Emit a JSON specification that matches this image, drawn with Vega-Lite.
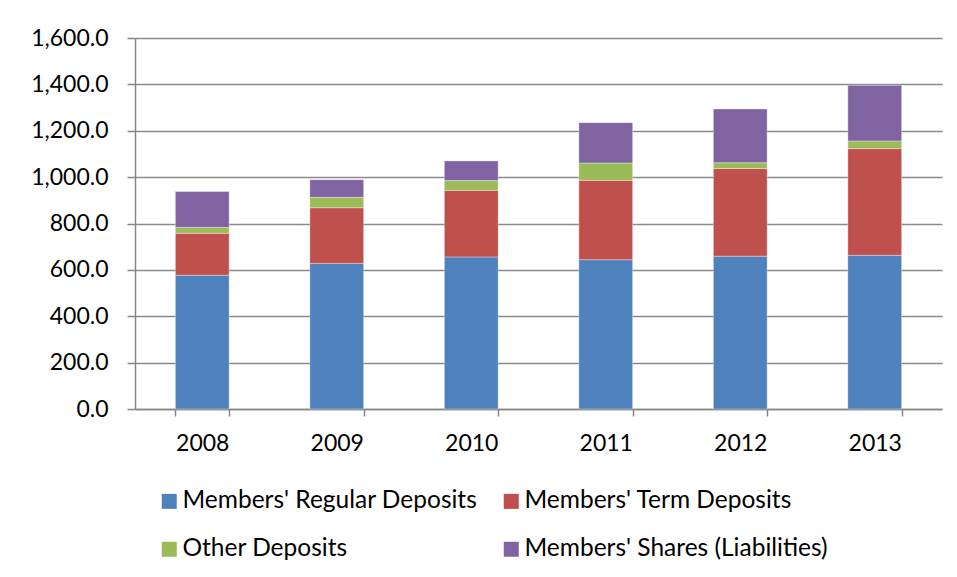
{
  "$schema": "https://vega.github.io/schema/vega-lite/v6.json",
  "width": 807,
  "height": 371,
  "autosize": {"type": "none"},
  "padding": {"left": 135, "top": 38, "right": 15, "bottom": 168},
  "background": "white",
  "config": {
    "font": "Lato",
    "view": {"stroke": null},
    "axis": {"labelFont": "Lato", "labelFontSize": 23, "labelColor": "black", "domainColor": "#868686", "tickColor": "#868686", "gridColor": "#8a8a8a", "domainWidth": 1.5, "tickWidth": 1.5, "gridWidth": 1.5}
  },
  "data": {
    "values": [
      {"year": "2008", "series": "Members' Regular Deposits", "idx": 1, "value": 577},
      {"year": "2008", "series": "Members' Term Deposits", "idx": 2, "value": 181},
      {"year": "2008", "series": "Other Deposits", "idx": 3, "value": 25},
      {"year": "2008", "series": "Members' Shares (Liabilities)", "idx": 4, "value": 155},
      {"year": "2009", "series": "Members' Regular Deposits", "idx": 1, "value": 628},
      {"year": "2009", "series": "Members' Term Deposits", "idx": 2, "value": 240},
      {"year": "2009", "series": "Other Deposits", "idx": 3, "value": 45},
      {"year": "2009", "series": "Members' Shares (Liabilities)", "idx": 4, "value": 76},
      {"year": "2010", "series": "Members' Regular Deposits", "idx": 1, "value": 656},
      {"year": "2010", "series": "Members' Term Deposits", "idx": 2, "value": 287},
      {"year": "2010", "series": "Other Deposits", "idx": 3, "value": 42},
      {"year": "2010", "series": "Members' Shares (Liabilities)", "idx": 4, "value": 85},
      {"year": "2011", "series": "Members' Regular Deposits", "idx": 1, "value": 644},
      {"year": "2011", "series": "Members' Term Deposits", "idx": 2, "value": 342},
      {"year": "2011", "series": "Other Deposits", "idx": 3, "value": 75},
      {"year": "2011", "series": "Members' Shares (Liabilities)", "idx": 4, "value": 174},
      {"year": "2012", "series": "Members' Regular Deposits", "idx": 1, "value": 659},
      {"year": "2012", "series": "Members' Term Deposits", "idx": 2, "value": 378},
      {"year": "2012", "series": "Other Deposits", "idx": 3, "value": 25},
      {"year": "2012", "series": "Members' Shares (Liabilities)", "idx": 4, "value": 232},
      {"year": "2013", "series": "Members' Regular Deposits", "idx": 1, "value": 663},
      {"year": "2013", "series": "Members' Term Deposits", "idx": 2, "value": 460},
      {"year": "2013", "series": "Other Deposits", "idx": 3, "value": 33},
      {"year": "2013", "series": "Members' Shares (Liabilities)", "idx": 4, "value": 240}
    ]
  },
  "mark": {"type": "bar", "stroke": "white", "strokeOpacity": 0.35, "strokeWidth": 1},
  "encoding": {
    "x": {
      "field": "year", "type": "nominal",
      "scale": {"paddingInner": 0.6, "paddingOuter": 0.3},
      "axis": {"title": null, "labelAngle": 0, "tickBand": "extent", "tickSize": 7, "labelPadding": 16, "grid": false}
    },
    "y": {
      "field": "value", "type": "quantitative", "stack": "zero",
      "scale": {"domain": [0, 1600], "nice": false},
      "axis": {"title": null, "values": [0, 200, 400, 600, 800, 1000, 1200, 1400, 1600], "format": ",.1f", "tickSize": 8, "labelPadding": 19, "grid": true}
    },
    "color": {
      "field": "series", "type": "nominal",
      "scale": {
        "domain": ["Members' Regular Deposits", "Members' Term Deposits", "Other Deposits", "Members' Shares (Liabilities)"],
        "range": ["#4F81BD", "#C0504D", "#9BBB59", "#8064A2"]
      },
      "legend": {
        "title": null, "orient": "none", "legendX": 22, "legendY": 451, "columns": 2, "direction": "horizontal",
        "symbolType": "square", "symbolSize": 225, "symbolStrokeWidth": 0, "symbolOpacity": 1,
        "labelFont": "Lato", "labelFontSize": 24.5, "labelColor": "black", "labelLimit": 400,
        "labelOffset": 1, "columnPadding": 21, "rowPadding": 23
      }
    },
    "order": {"field": "idx", "type": "quantitative"}
  }
}
